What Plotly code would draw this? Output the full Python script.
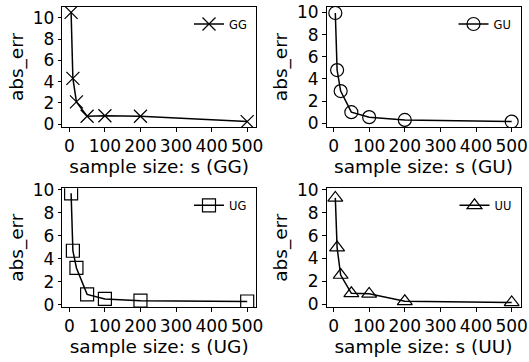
import plotly.graph_objects as go

sample_sizes = [5, 10, 20, 50, 100, 200, 500]
err_GG = [10.5, 4.3, 2.1, 0.75, 0.8, 0.75, 0.25]
err_GU = [9.95, 4.8, 2.9, 1.0, 0.55, 0.3, 0.15]
err_UG = [9.7, 4.7, 3.2, 0.9, 0.5, 0.35, 0.28]
err_UU = [9.3, 4.95, 2.55, 0.95, 0.9, 0.25, 0.15]
names = ["GG", "GU", "UG", "UU"]
series = [err_GG, err_GU, err_UG, err_UU]
symbols = ["x-thin-open", "circle-open", "square-open", "triangle-up-open"]
y_limits = [[-0.26, 11.01], [-0.34, 10.49], [-0.2, 10.14], [-0.25, 10.14]]
x_ticks = [0, 100, 200, 300, 400, 500]
y_ticks = [0, 2, 4, 6, 8, 10]

W, H = 529, 362
col_dom = [[62.3 / W, 256.0 / W], [326.5 / W, 520.5 / W]]
row_dom = [[1 - 127 / H, 1 - 7 / H], [1 - 307 / H, 1 - 188.3 / H]]

FONT = "DejaVu Sans"
fig = go.Figure()
layout = dict(width=W, height=H, margin=dict(l=0, r=0, t=0, b=0, autoexpand=False),
              paper_bgcolor="white", plot_bgcolor="white",
              font=dict(family=FONT, color="black", size=17), showlegend=True)

for i, (nm, ys, sym, ylim) in enumerate(zip(names, series, symbols, y_limits)):
    r, c = divmod(i, 2)
    ax = "" if i == 0 else str(i + 1)
    leg = "legend" if i == 0 else f"legend{i + 1}"
    fig.add_trace(go.Scatter(
        x=sample_sizes, y=ys, name=nm, mode="lines+markers",
        xaxis="x" + ax, yaxis="y" + ax, legend=leg,
        line=dict(color="black", width=1.5),
        marker=dict(symbol=sym, size=13, color="black",
                    line=dict(color="black", width=1.2)),
    ))
    xpad = (sample_sizes[-1] - sample_sizes[0]) * 0.05
    common = dict(showline=True, linecolor="black", linewidth=1, mirror=True,
                  ticks="outside", ticklen=3.5, tickwidth=1, tickcolor="black",
                  showgrid=False, zeroline=False, tickangle=0, automargin=False,
                  tickfont=dict(size=17, family=FONT, color="black"))
    layout["xaxis" + ax] = dict(domain=col_dom[c], anchor="y" + ax,
                                range=[sample_sizes[0] - xpad, sample_sizes[-1] + xpad],
                                tickvals=x_ticks,
                                title=dict(text=f"sample size: s ({nm})", standoff=0,
                                           font=dict(size=18.5, family=FONT)),
                                **common)
    layout["yaxis" + ax] = dict(domain=row_dom[r], anchor="x" + ax,
                                range=ylim, tickvals=y_ticks,
                                title=dict(text="abs_err", standoff=4,
                                           font=dict(size=18.5, family=FONT)),
                                **common)
    legx = (col_dom[c][1] * W - 4) / W
    legy = (row_dom[r][1] * H - 17) / H
    layout[leg] = dict(x=legx, y=legy, xanchor="right", yanchor="middle",
                       bgcolor="rgba(255,255,255,0)", borderwidth=0,
                       font=dict(size=11.5, family=FONT, color="black"))

fig.update_layout(**layout)
fig.write_html("out.html", config={"displayModeBar": False},
               post_script="document.body.style.margin='0px';document.body.style.padding='0px';")
